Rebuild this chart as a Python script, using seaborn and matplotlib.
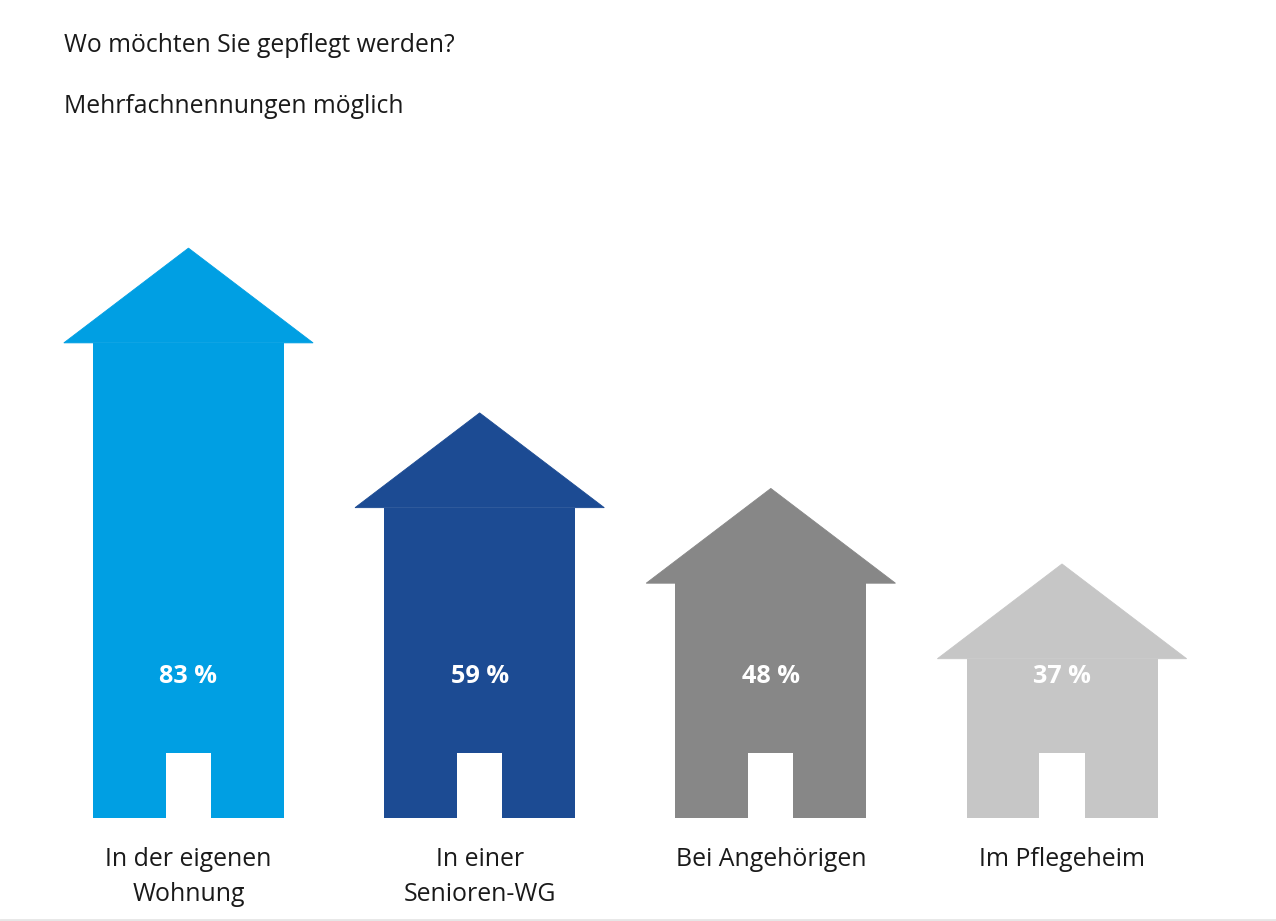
import matplotlib
matplotlib.use("Agg")
import matplotlib.pyplot as plt
import seaborn as sns
import pandas as pd
from matplotlib.patches import Polygon, Rectangle

categories = ["In der eigenen\nWohnung", "In einer\nSenioren-WG", "Bei Angehörigen", "Im Pflegeheim"]
values = [83, 59, 48, 37]
colors = ["#009fe3", "#1c4b93", "#878787", "#c6c6c6"]
value_labels = ["83 %", "59 %", "48 %", "37 %"]
title = "Wo möchten Sie gepflegt werden?"
subtitle = "Mehrfachnennungen möglich"

sns.set_theme(style="white")
plt.rcParams["font.family"] = ["Open Sans", "DejaVu Sans"]

ROOF_H = 13.8      # roof height in value units
BODY_W = 0.656
ROOF_W = 0.856
DOOR_W = 0.155
DOOR_H = 9.5
LABEL_Y = 20.6

df = pd.DataFrame({"cat": categories, "body": [v - ROOF_H for v in values]})

fig = plt.figure(figsize=(12.76, 9.21), dpi=100)
ax = fig.add_axes([0.0336, 0.1118, 0.9128, 0.671])
sns.barplot(data=df, x="cat", y="body", hue="cat", palette=colors, legend=False,
            width=BODY_W, ax=ax, saturation=1, linewidth=0)

for i, (v, c) in enumerate(zip(values, colors)):
    base = v - ROOF_H
    roof = Polygon([(i - ROOF_W / 2, base), (i, v), (i + ROOF_W / 2, base)],
                   closed=True, facecolor=c, edgecolor=c, linewidth=0.6)
    ax.add_patch(roof)
    door = Rectangle((i - DOOR_W / 2, 0), DOOR_W, DOOR_H, facecolor="white", edgecolor="none", zorder=3)
    ax.add_patch(door)
    ax.text(i, LABEL_Y, value_labels[i], ha="center", va="center", color="white",
            fontsize=18.2, fontweight="bold", zorder=4)

ax.set_xlim(-0.5, 3.5)
ax.set_ylim(0, 90)
ax.set_xlabel("")
ax.set_ylabel("")
ax.set_yticks([])
ax.tick_params(axis="x", length=0, pad=21, labelsize=17.9, labelcolor="#1a1a1a")
for lab in ax.get_xticklabels():
    lab.set_linespacing(1.52)
for s in ax.spines.values():
    s.set_visible(False)
ax.patch.set_alpha(0)

fig.text(64 / 1276, 1 - 46 / 921, title, fontsize=17.8, color="#1a1a1a", va="center", ha="left")
fig.text(64 / 1276, 1 - 106 / 921, subtitle, fontsize=17.8, color="#1a1a1a", va="center", ha="left")
fig.add_artist(plt.Line2D([0, 1], [1.5 / 921, 1.5 / 921], color="#e6e6e6", lw=2, transform=fig.transFigure))

fig.savefig("out.png", dpi=100, facecolor="white")
